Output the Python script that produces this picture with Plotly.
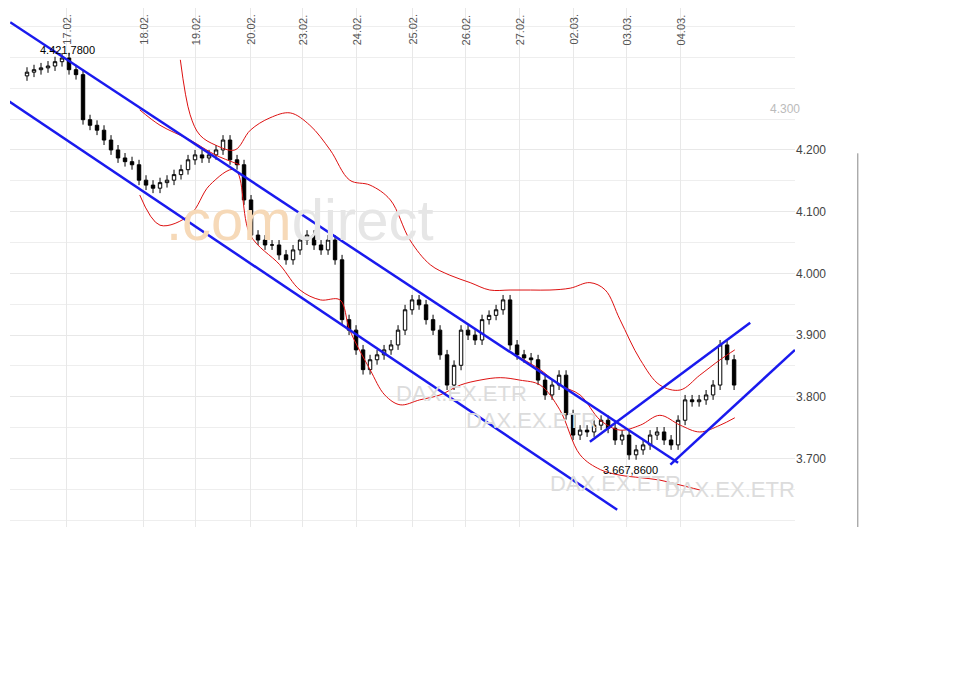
import plotly.graph_objects as go

opens = [4320,4326,4330,4333,4336,4343,4349,4330,4322,4249,4240,4232,4216,4200,4187,4181,4176,4151,4143,4138,4147,4151,4160,4168,4184,4192,4187,4192,4200,4216,4184,4176,4119,4062,4054,4046,4046,4030,4022,4038,4054,4062,4046,4038,4054,4022,3925,3908,3876,3844,3860,3868,3876,3884,3908,3941,3957,3949,3925,3908,3868,3819,3851,3908,3900,3892,3925,3932,3941,3957,3884,3868,3863,3860,3827,3803,3819,3835,3771,3738,3746,3743,3754,3762,3749,3730,3738,3706,3714,3722,3738,3743,3730,3722,3762,3795,3792,3795,3803,3819,3884,3860]
closes = [4326,4330,4333,4336,4343,4349,4330,4322,4249,4240,4232,4216,4200,4187,4181,4176,4151,4143,4138,4147,4151,4160,4168,4184,4192,4187,4192,4200,4216,4184,4176,4119,4062,4054,4046,4046,4030,4022,4038,4054,4062,4046,4038,4054,4022,3925,3908,3876,3844,3860,3868,3876,3884,3908,3941,3957,3949,3925,3908,3868,3819,3851,3908,3900,3892,3925,3932,3941,3957,3884,3868,3863,3860,3827,3803,3819,3835,3771,3738,3746,3743,3754,3762,3749,3730,3738,3706,3714,3722,3738,3743,3730,3722,3762,3795,3792,3795,3803,3819,3884,3860,3819]
highs = [4334,4338,4341,4344,4351,4357,4357,4338,4330,4257,4248,4240,4224,4208,4195,4189,4184,4159,4151,4155,4159,4168,4176,4192,4200,4200,4200,4208,4224,4224,4192,4184,4127,4070,4062,4054,4054,4038,4046,4062,4070,4070,4054,4062,4062,4030,3933,3916,3884,3868,3876,3884,3892,3916,3949,3965,3965,3957,3933,3916,3876,3859,3916,3916,3908,3933,3940,3949,3965,3965,3892,3876,3871,3868,3835,3827,3843,3843,3779,3754,3754,3762,3770,3770,3757,3746,3746,3722,3730,3746,3751,3751,3738,3770,3803,3803,3803,3811,3827,3892,3892,3868]
lows = [4312,4318,4322,4325,4328,4335,4322,4314,4241,4232,4224,4208,4192,4179,4173,4168,4143,4135,4130,4130,4139,4143,4152,4160,4176,4179,4179,4184,4192,4176,4168,4111,4054,4046,4038,4038,4022,4014,4014,4030,4046,4038,4030,4030,4014,3917,3900,3868,3836,3836,3852,3860,3868,3876,3900,3933,3941,3917,3900,3860,3811,3811,3843,3892,3884,3884,3917,3924,3933,3876,3860,3855,3852,3819,3795,3795,3811,3763,3730,3730,3735,3735,3746,3741,3722,3722,3698,3698,3706,3714,3730,3722,3714,3714,3754,3784,3784,3787,3795,3811,3852,3811]
idx = list(range(len(closes)))

up_x = [21.9,23.3,24.7,26.9,29.7,31.9,34.7,37.6,40.4,43.3,46.1,49,51.9,54.7,57.6,60.4,63.3,66.1,69,71.9,74.7,77.6,80.4,82.6,84.7,87.6,90.4,93.3,96.1,99,101.1]
up_y = [4346,4257,4224,4208,4200,4232,4252,4260,4240,4200,4151,4143,4119,4054,4014,3997,3985,3973,3973,3973,3973,3976,3985,3973,3925,3860,3819,3811,3835,3860,3876]
mid_x = [16.1,19,23.3,26.9,30.4]
mid_y = [4265,4240,4216,4192,4176]
mid2_x = [69.7,73.3,76.1,79,81.9,84.7,87.6,90.4,93.3,96.1,99,101.1]
mid2_y = [3868,3844,3819,3803,3762,3746,3754,3770,3754,3743,3754,3766]
lo_x = [16.1,19,23.3,26.1,29.7,31.9,36.1,39,41.9,44.7,46.1,49,51.1,53.3,56.1,59,61.9,64.7,67.6,70.4,73.3,76.1,79,81.9,84.7,87.6,90.4,93.3,96.1]
lo_y = [4127,4078,4095,4143,4168,4062,4014,3973,3957,3957,3908,3844,3803,3787,3795,3803,3819,3827,3831,3827,3819,3779,3706,3682,3673,3669,3665,3657,3649]

trend_lines = [((-2.4, 4407), (93, 3693)), ((-3.9, 4289), (84.3, 3617)),
               ((80.4, 3727), (103.3, 3920)), ((91.9, 3690), (109.7, 3876))]

date_labels = ["17.02.","18.02.","19.02.","20.02.","23.02.","24.02.","25.02.","26.02.","27.02.","02.03.","03.03.","04.03."]
date_pos = [5.6,16.6,24.1,31.9,39.4,47.1,55,62.7,70.4,78,85.7,93.4]
price_ticks = [3700,3800,3900,4000,4100,4200]

fig = go.Figure()
fig.add_trace(go.Candlestick(x=idx, open=opens, high=highs, low=lows, close=closes,
    increasing=dict(line=dict(color="black", width=1), fillcolor="white"),
    decreasing=dict(line=dict(color="black", width=1), fillcolor="black"),
    whiskerwidth=0, showlegend=False))
for bx, by in [(up_x, up_y), (mid_x, mid_y), (mid2_x, mid2_y), (lo_x, lo_y)]:
    fig.add_trace(go.Scatter(x=bx, y=by, mode="lines", line=dict(color="#dd1111", width=1, shape="spline"),
                             showlegend=False, hoverinfo="skip"))
for (x0, y0), (x1, y1) in trend_lines:
    fig.add_shape(type="line", x0=x0, y0=y0, x1=x1, y1=y1, line=dict(color="#1a1aee", width=2.5))

fig.add_shape(type="rect", xref="paper", yref="paper", x0=0, x1=0.617, y0=0, y1=0.19,
              fillcolor="white", line_width=0, layer="below")

for lab, p in zip(date_labels, date_pos):
    fig.add_annotation(x=p, y=1, yref="paper", text=lab, textangle=-90, showarrow=False,
                       yanchor="top", yshift=-4, font=dict(size=11, color="#555", family="Liberation Sans"))

fig.add_annotation(x=1.5, y=4421.78 - 60, text="4.421,7800", showarrow=False, xanchor="left",
                   font=dict(size=11, color="black", family="Liberation Sans"))
fig.add_annotation(x=90.4, y=3682, text="3.667,8600", showarrow=False, xanchor="right",
                   font=dict(size=11, color="black", family="Liberation Sans"))
fig.add_annotation(x=0.965, xref="paper", y=4267, text="4.300", showarrow=False, xanchor="left",
                   font=dict(size=12, color="#bbb", family="Liberation Sans"))
fig.add_annotation(x=39, y=4087, showarrow=False,
                   text="<span style='color:#f6d9b8'>.com</span><span style='color:#e6e6e6'>direct</span>",
                   font=dict(size=58, family="Liberation Sans"))
for xx, yy in [(62, 3805), (72, 3762), (84, 3660), (100.4, 3649)]:
    fig.add_annotation(x=xx, y=yy, text="DAX.EX.ETR", showarrow=False,
                       font=dict(size=22, color="#dcdcdc", family="Liberation Sans"))

fig.update_layout(
    width=954, height=694, margin=dict(l=2, r=167, t=0, b=175),
    paper_bgcolor="white", plot_bgcolor="white",
    xaxis=dict(range=[-2.43, 109.7], rangeslider=dict(visible=False), showticklabels=False,
               tickvals=date_pos, showgrid=True, gridcolor="#e8e8e8", zeroline=False),
    yaxis=dict(range=[3589, 4430], side="right", tickvals=price_ticks,
               ticktext=[f"{v/1000:.3f}" for v in price_ticks],
               showgrid=True, gridcolor="#e8e8e8", zeroline=False,
               minor=dict(dtick=50, showgrid=True, gridcolor="#eeeeee"),
               tickfont=dict(size=12, color="#444", family="Liberation Sans")),
)
fig.add_shape(type="line", xref="paper", yref="paper", x0=1.08, x1=1.08, y0=0, y1=0.72,
              line=dict(color="#888", width=1))
fig.write_html("out.html")
